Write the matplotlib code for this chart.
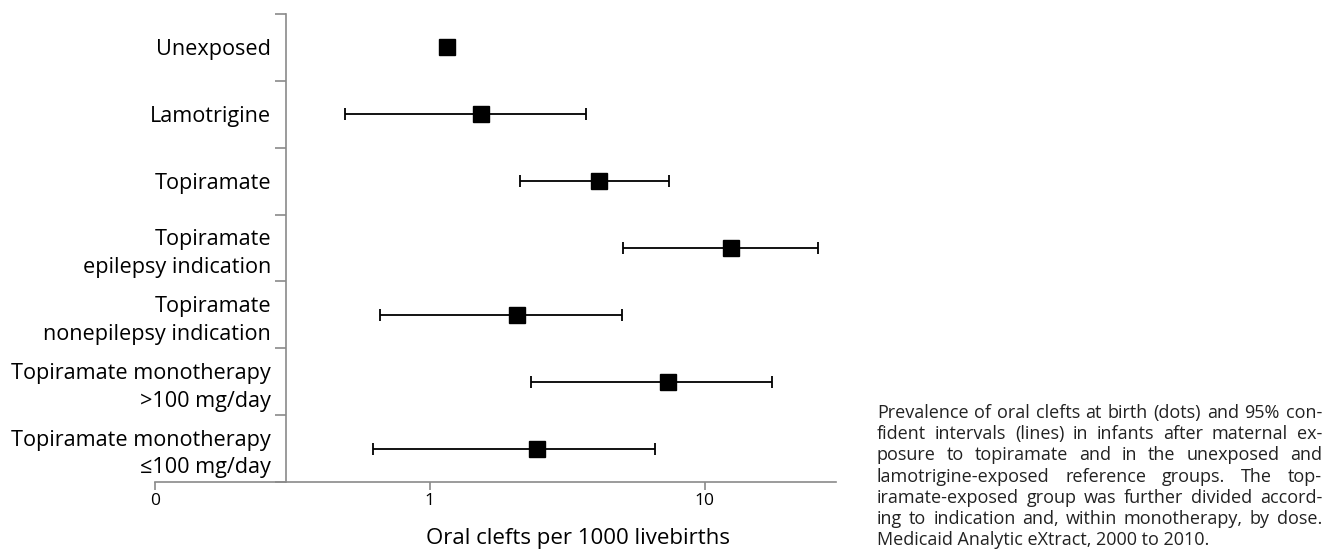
import numpy as np
import matplotlib.pyplot as plt
from matplotlib.ticker import FixedLocator, NullLocator

plt.rcParams['font.family'] = ['Open Sans', 'DejaVu Sans']

# Данные
groups = ["Unexposed", "Lamotrigine", "Topiramate",
          "Topiramate\nepilepsy indication", "Topiramate\nnonepilepsy indication",
          "Topiramate monotherapy\n>100 mg/day", "Topiramate monotherapy\n≤100 mg/day"]
prevalence = [1.15, 1.53, 4.12, 12.4, 2.07, 7.33, 2.45]
ci_low = [1.10, 0.49, 2.12, 5.03, 0.66, 2.33, 0.62]
ci_high = [1.23, 3.69, 7.40, 25.8, 4.99, 17.5, 6.58]
x_ticks = [0.1, 1, 10]
x_tick_labels = ["0", "1", "10"]

caption_lines = [
    "Prevalence of oral clefts at birth (dots) and 95% con-",
    "fident intervals (lines) in infants after maternal ex-",
    "posure to topiramate and in the unexposed and",
    "lamotrigine-exposed reference groups. The top-",
    "iramate-exposed group was further divided accord-",
    "ing to indication and, within monotherapy, by dose.",
    "Medicaid Analytic eXtract, 2000 to 2010.",
]

W, H = 1325, 550
fig = plt.figure(figsize=(W / 100, H / 100), dpi=100)
ax = fig.add_axes([155 / W, 1 - 482 / H, (836 - 155) / W, (482 - 14) / H])

y = np.arange(len(groups))
p = np.array(prevalence)
err = [p - np.array(ci_low), np.array(ci_high) - p]
ax.errorbar(p, y, xerr=err, fmt='s', color='black', ms=11.5,
            elinewidth=1.3, capsize=4.5, capthick=1.3)

ax.set_xscale('log')
ax.set_xlim(0.1, 30)
ax.set_ylim(len(groups) - 0.5, -0.5)

for s in ['top', 'right']:
    ax.spines[s].set_visible(False)
ax.spines['left'].set_position(('data', 0.3))
for s in ['left', 'bottom']:
    ax.spines[s].set_color('#8a8a8a')
    ax.spines[s].set_linewidth(1.2)

# ось y: подписи по центру строк, засечки между строками
ax.yaxis.set_major_locator(FixedLocator(y))
ax.set_yticklabels(groups, fontsize=15.6, linespacing=1.4, ha='right', multialignment='right')
ax.yaxis.set_minor_locator(FixedLocator(np.arange(-0.5, len(groups), 1)))
ax.tick_params(axis='y', which='major', length=0, pad=11)
ax.tick_params(axis='y', which='minor', length=8, width=1.2, color='#8a8a8a')

# ось x
ax.xaxis.set_major_locator(FixedLocator(x_ticks))
ax.xaxis.set_minor_locator(NullLocator())
ax.set_xticklabels(x_tick_labels, fontsize=12.5)
ax.tick_params(axis='x', which='major', length=6, width=1.2, color='#8a8a8a', pad=2)
ax.set_xlabel("Oral clefts per 1000 livebirths", fontsize=16)
ax.xaxis.set_label_coords((578 - 155) / (836 - 155), -46 / (482 - 14))

# подпись справа, выровненная по ширине
renderer = fig.canvas.get_renderer()
left_px, right_px = 877, 1322
top_px, step_px = 413, 21.2
cap_size = 13
for i, line in enumerate(caption_lines):
    yf = 1 - (top_px + i * step_px) / H
    words = line.split(" ")
    if i == len(caption_lines) - 1:
        fig.text(left_px / W, yf, line, fontsize=cap_size, va='center', ha='left', color='#222222')
        continue
    texts = [fig.text(0, yf, w, fontsize=cap_size, va='center', ha='left', color='#222222')
             for w in words]
    widths = [t.get_window_extent(renderer).width for t in texts]
    gap = (right_px - left_px - sum(widths)) / (len(words) - 1)
    x = left_px
    for t, w in zip(texts, widths):
        t.set_x(x / W)
        x += w + gap

fig.savefig("out.png", dpi=100)
